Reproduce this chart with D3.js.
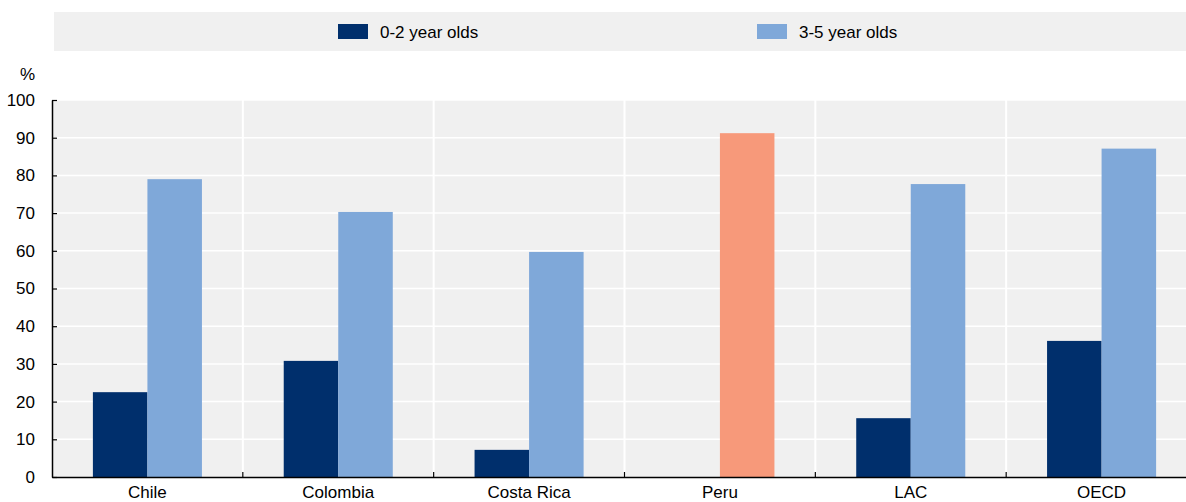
<!DOCTYPE html>
<html>
  <head>
    <meta charset='utf-8' />
    <script src="https://d3js.org/d3.v7.min.js"></script>
    <style>
    body { margin: 0; background: #fff; }
    text {
      font-family: "Liberation Sans Narrow", "Arial Narrow", "Liberation Sans", sans-serif;
      fill: #000;
    }
    </style>
  </head>
  <body>
    <div id="chart"></div>
    <script>
// data
var categories = ["Chile", "Colombia", "Costa Rica", "Peru", "LAC", "OECD"];
var seriesNames = ["0-2 year olds", "3-5 year olds"];
var age02 = [22.5, 30.8, 7.2, null, 15.6, 36.1];
var age35 = [79.0, 70.3, 59.7, 91.2, 77.7, 87.1];
var highlight = ["Peru"];
var yTicks = [0, 10, 20, 30, 40, 50, 60, 70, 80, 90, 100];

var colors = ["#002F6C", "#7FA8D9"],
    highlightColor = "#F7997A",
    plotBg = "#F0F0F0";

var width = 1186,
    height = 502,
    margin = {top: 100, right: -11, bottom: 25, left: 52};

var svg = d3.select("#chart").append("svg")
    .attr("width", width)
    .attr("height", height);

// legend box
svg.append("rect")
    .attr("x", 54).attr("y", 12)
    .attr("width", width - 54).attr("height", 39)
    .style("fill", plotBg);

var legendX = [338, 757];
seriesNames.forEach(function(name, i) {
  svg.append("rect")
      .attr("x", legendX[i]).attr("y", 24)
      .attr("width", 30).attr("height", 15)
      .style("fill", colors[i]);
  svg.append("text")
      .attr("x", legendX[i] + 42).attr("y", 37.5)
      .style("font-size", "17px")
      .text(name);
});

var x = d3.scaleBand()
    .domain(categories)
    .range([margin.left, width - margin.right]);

var xSub = d3.scaleBand()
    .domain([0, 1])
    .range([0, x.bandwidth()])
    .paddingInner(0)
    .paddingOuter(0.75);

var y = d3.scaleLinear()
    .domain([0, 100])
    .range([height - margin.bottom, margin.top]);

// plot background
svg.append("rect")
    .attr("x", margin.left).attr("y", margin.top)
    .attr("width", width - margin.right - margin.left)
    .attr("height", y(0) - margin.top)
    .style("fill", plotBg);

// horizontal gridlines
svg.append("g").selectAll("line")
    .data(yTicks.filter(function(d) { return d > 0; }))
  .enter().append("line")
    .attr("x1", margin.left).attr("x2", width - margin.right)
    .attr("y1", function(d) { return y(d); })
    .attr("y2", function(d) { return y(d); })
    .style("stroke", "#fff")
    .style("stroke-width", 1.5);

// vertical separators
svg.append("g").selectAll("line")
    .data(categories.slice(1))
  .enter().append("line")
    .attr("x1", function(d) { return x(d); })
    .attr("x2", function(d) { return x(d); })
    .attr("y1", margin.top).attr("y2", y(0))
    .style("stroke", "#fff")
    .style("stroke-width", 2);

// bars
var rows = categories.map(function(c, i) {
  return {cat: c, values: [age02[i], age35[i]]};
});

var groups = svg.append("g").selectAll("g")
    .data(rows)
  .enter().append("g")
    .attr("transform", function(d) { return "translate(" + x(d.cat) + ",0)"; });

groups.selectAll("rect")
    .data(function(d) {
      return d.values.map(function(v, j) { return {cat: d.cat, value: v, s: j}; })
        .filter(function(e) { return e.value != null; });
    })
  .enter().append("rect")
    .attr("x", function(d) { return xSub(d.s); })
    .attr("width", xSub.bandwidth())
    .attr("y", function(d) { return y(d.value); })
    .attr("height", function(d) { return y(0) - y(d.value); })
    .style("fill", function(d) {
      return highlight.indexOf(d.cat) >= 0 ? highlightColor : colors[d.s];
    });

// y axis
var yAxis = svg.append("g")
    .attr("transform", "translate(" + margin.left + ",0)")
    .call(d3.axisLeft(y).tickValues(yTicks).tickSizeInner(-5).tickSizeOuter(0).tickPadding(17));
yAxis.select(".domain").style("stroke", "#000").style("stroke-width", 1.5);
yAxis.selectAll(".tick line").style("stroke", "#000").style("stroke-width", 1.2);
yAxis.selectAll(".tick text").style("font-size", "17px").attr("fill", "#000");

svg.append("text")
    .attr("x", 35).attr("y", 80)
    .attr("text-anchor", "end")
    .style("font-size", "17px")
    .text("%");

// x axis
var xAxis = svg.append("g")
    .attr("transform", "translate(0," + y(0) + ")")
    .call(d3.axisBottom(x).tickSize(0).tickPadding(9));
xAxis.select(".domain").style("stroke", "#000").style("stroke-width", 1.5);
xAxis.selectAll(".tick text").style("font-size", "17px").attr("fill", "#000");

svg.append("g").selectAll("line")
    .data(categories.slice(1))
  .enter().append("line")
    .attr("x1", function(d) { return x(d); })
    .attr("x2", function(d) { return x(d); })
    .attr("y1", y(0)).attr("y2", y(0) - 5)
    .style("stroke", "#000")
    .style("stroke-width", 1.2);
    </script>
</body>
</html>
